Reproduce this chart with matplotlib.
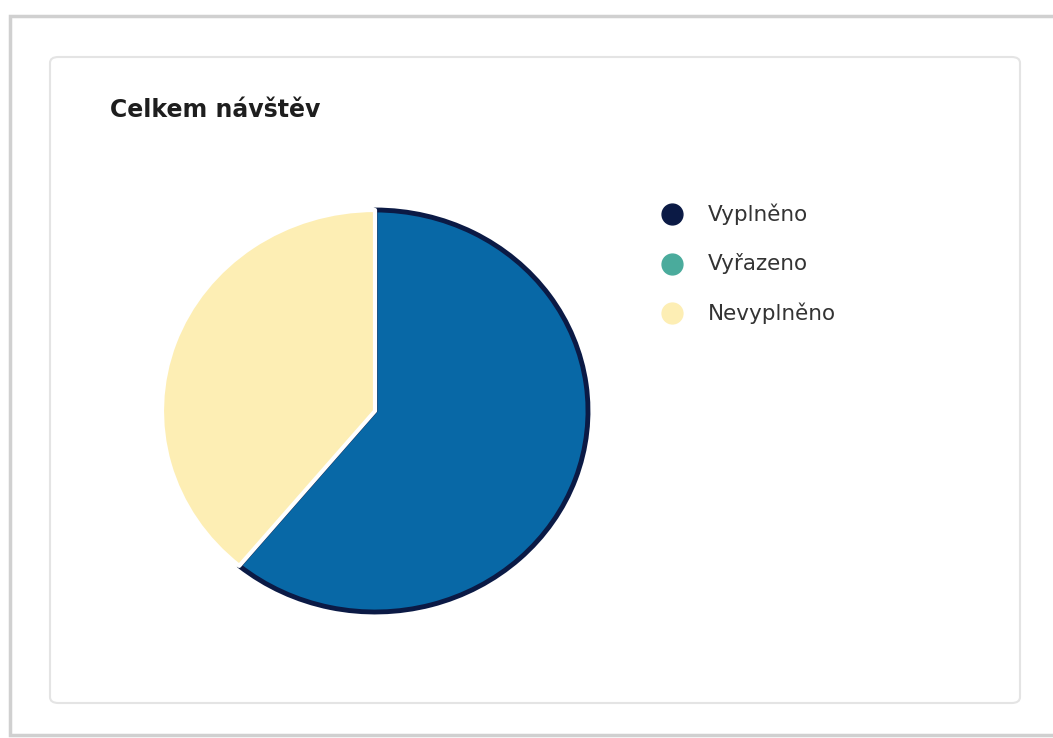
import matplotlib.pyplot as plt
from matplotlib.patches import FancyBboxPatch, Rectangle
from matplotlib.lines import Line2D

# data
labels = ['Vyplněno', 'Vyřazeno', 'Nevyplněno']
values = [61, 0, 39]
slice_colors = ['#0868a6', '#4aab9c', '#fdeeb4']
legend_colors = ['#0b1a45', '#4aab9c', '#fdeeb4']
edge_colors = ['#0b1a45', 'white', 'white']

plt.rcParams['font.family'] = ['DejaVu Sans']

W, H = 1053, 738
fig = plt.figure(figsize=(W / 100, H / 100), dpi=100)
fig.patch.set_facecolor('white')

# screenshot frame + card
fig.patches.append(Rectangle((10 / W, 1 - 735 / H), 1.2, (735 - 16) / H,
                             transform=fig.transFigure, facecolor='white',
                             edgecolor='#d0d0d0', linewidth=2.5, zorder=-2))
fig.patches.append(FancyBboxPatch((50 / W, 1 - 703 / H), 970 / W, (703 - 57) / H,
                                  boxstyle='round,pad=0,rounding_size=0.008',
                                  transform=fig.transFigure, facecolor='white',
                                  edgecolor='#e4e4e4', linewidth=1.5, zorder=-1))

fig.text(110 / W, 1 - 110 / H, 'Celkem návštěv', fontsize=17, fontweight='bold',
         color='#1e1e1e', va='center', ha='left')

cx, cy, rx, ry = 375, 411, 213, 201
ax = fig.add_axes([(cx - rx) / W, 1 - (cy + ry) / H, 2 * rx / W, 2 * ry / H])
ax.set_zorder(2)
wedges, _ = ax.pie(values, colors=slice_colors, startangle=90, counterclock=False,
                   radius=1.0)
for w, ec in zip(wedges, edge_colors):
    w.set_edgecolor(ec)
    w.set_linewidth(3.5 if ec != 'white' else 3)
    w.set_joinstyle('round')
wedges[1].set_linewidth(0)
ax.set_aspect('auto')
ax.set_xlim(-1, 1)
ax.set_ylim(-1, 1)
ax.axis('off')

# legend
for i, (lab, c) in enumerate(zip(labels, legend_colors)):
    y = 1 - (214 + 49.5 * i) / H
    fig.add_artist(Line2D([672 / W], [y], marker='o', linestyle='', markersize=15,
                          markerfacecolor=c, markeredgecolor=c,
                          transform=fig.transFigure))
    fig.text(708 / W, y, lab, fontsize=15.5, color='#333333', va='center', ha='left')

fig.savefig('out.png', dpi=100)
